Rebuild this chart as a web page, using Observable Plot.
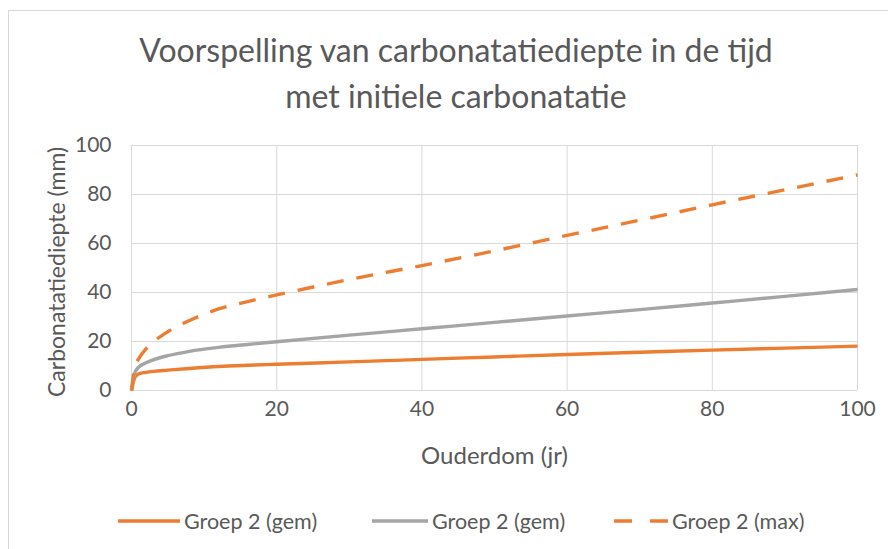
<!DOCTYPE html>
<html><head><meta charset="utf-8">
<script src="https://cdn.jsdelivr.net/npm/d3@7"></script>
<script src="https://cdn.jsdelivr.net/npm/@observablehq/plot@0.6"></script>
<style>
body{margin:0;background:#fff;font-family:Lato,sans-serif;overflow:hidden}
#frame{position:absolute;left:8px;top:10px;width:900px;height:560px;border:1px solid #d9d9d9;box-sizing:border-box}
#title{position:absolute;left:0;top:27px;width:912px;text-align:center;color:#595959;font-size:32px;line-height:46px;white-space:nowrap}
#chart{position:absolute;left:0;top:130px}
.leg{position:absolute;top:509px;height:24px;display:flex;align-items:center;color:#595959;font-size:21.5px;white-space:nowrap}
.leg svg{margin-right:4px}
</style></head>
<body>
<div id="frame"></div>
<div id="title">Voorspelling van carbonatatiediepte in de tijd<br>met initiele carbonatatie</div>
<div id="chart"></div>
<div id="legendbox"></div>
<script>
const ages = [0, 0.5, 1, 2, 3, 5, 8, 12, 16, 20, 30, 40, 50, 60, 70, 80, 90, 100];
const gemOranje = [0, 5.5, 6.8, 7.4, 7.8, 8.3, 9.0, 9.8, 10.3, 10.7, 11.7, 12.7, 13.7, 14.7, 15.6, 16.5, 17.3, 18.1];
const gemGrijs  = [0, 7.5, 9.5, 11.3, 12.5, 14.2, 16, 17.6, 18.8, 19.9, 22.6, 25.2, 27.8, 30.4, 33, 35.7, 38.4, 41.2];
const maxOranje = [0, 10, 13, 17, 19.8, 24, 28.6, 33.3, 36.3, 39, 45.3, 51, 57, 63.3, 69.5, 75.8, 81.9, 88];
const seriesNames = ["Groep 2 (gem)", "Groep 2 (gem)", "Groep 2 (max)"];
const seriesColors = ["#ED7D31", "#A5A5A5", "#ED7D31"];
const seriesDash = [null, null, "17,13"];
const xTicks = [0, 20, 40, 60, 80, 100];
const yTicks = [0, 20, 40, 60, 80, 100];
const xTitle = "Ouderdom (jr)";
const yTitle = "Carbonatatiediepte (mm)";

const allSeries = [gemOranje, gemGrijs, maxOranje];
const rows = [];
allSeries.forEach((vals, s) => vals.forEach((v, i) => rows.push({s, x: ages[i], y: v})));

const marks = [
  Plot.gridX(xTicks, {stroke: "#d9d9d9", strokeOpacity: 1, strokeWidth: 1}),
  Plot.gridY(yTicks, {stroke: "#d9d9d9", strokeOpacity: 1, strokeWidth: 1}),
  Plot.axisX(xTicks, {tickSize: 0, tickPadding: 11, fontSize: 21, fill: "#595959", label: null}),
  Plot.axisY(yTicks, {tickSize: 0, tickPadding: 20, fontSize: 21, fill: "#595959", label: null}),
  Plot.text([yTitle], {frameAnchor: "left", textAnchor: "middle", rotate: -90, dx: -74, dy: 4, fontSize: 23, fill: "#595959"}),
  Plot.text([xTitle], {frameAnchor: "bottom", dy: 73, fontSize: 24, fill: "#595959"})
];
allSeries.forEach((vals, s) => {
  marks.push(Plot.line(rows.filter(r => r.s === s), {
    x: "x", y: "y", stroke: seriesColors[s], strokeWidth: 3.4,
    strokeDasharray: seriesDash[s] || undefined, curve: "monotone-x", strokeLinecap: "butt"
  }));
});

const chart = Plot.plot({
  width: 888, height: 350,
  marginLeft: 131, marginRight: 31, marginTop: 15, marginBottom: 90,
  style: {fontFamily: "Lato, sans-serif", background: "transparent", overflow: "visible"},
  x: {domain: [0, 100]},
  y: {domain: [0, 100]},
  marks
});
document.getElementById("chart").appendChild(chart);

const legPos = [118, 372, 612];
const legLen = [62, 56, 56];
const box = document.getElementById("legendbox");
seriesNames.forEach((name, s) => {
  const d = document.createElement("div");
  d.className = "leg";
  d.style.left = legPos[s] + "px";
  const w = legLen[s];
  d.innerHTML = `<svg width="${w}" height="10"><line x1="0" x2="${w}" y1="5" y2="5" stroke="${seriesColors[s]}" stroke-width="3.4" ${seriesDash[s] ? `stroke-dasharray="18,18" stroke-dashoffset="-2"` : ""}/></svg><span>${name}</span>`;
  box.appendChild(d);
});
</script>
</body></html>
